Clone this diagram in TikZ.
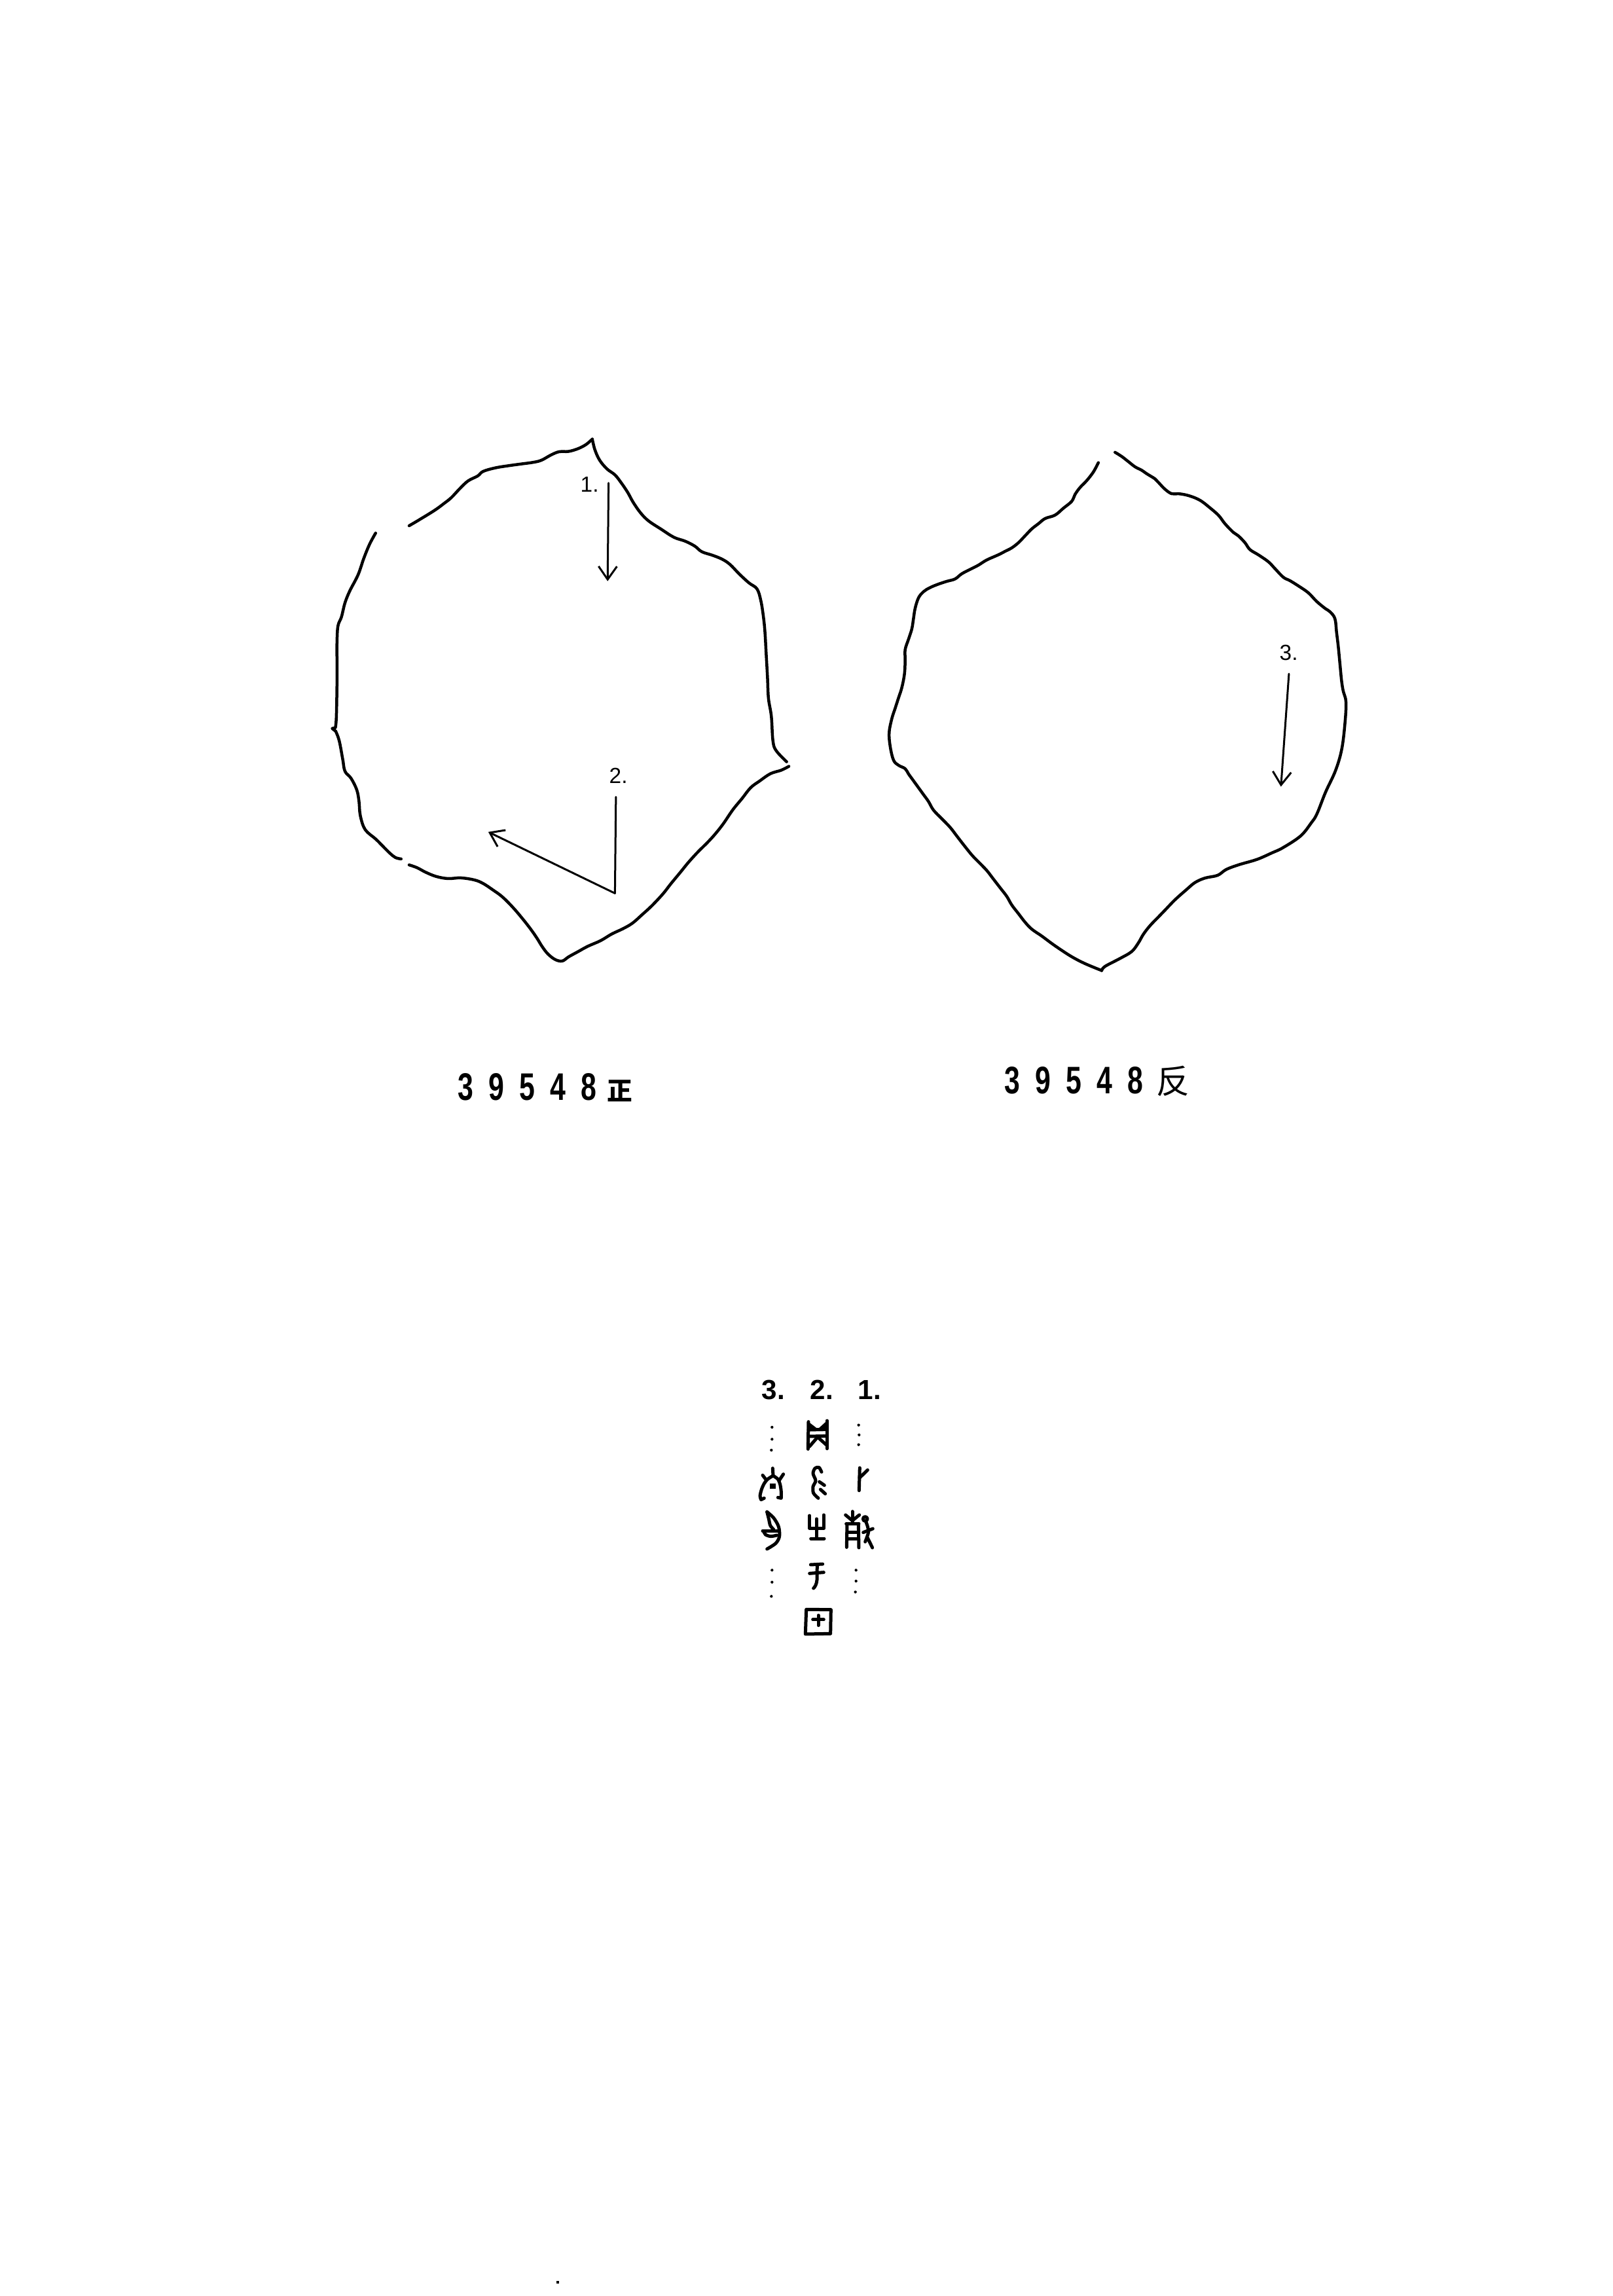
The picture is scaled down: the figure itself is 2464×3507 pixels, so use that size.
\documentclass[tikz,border=0pt]{standalone}
\usepackage{graphicx}
\usepackage{fontspec}
\setmainfont{Liberation Sans}
\newfontfamily\cjk{Noto Sans CJK SC}
\usetikzlibrary{arrows.meta}
\newcommand\fragdigit[1]{\makebox[4.7mm]{\scalebox{0.73}[1]{#1}}}
\begin{document}
\begin{tikzpicture}[x=0.1mm,y=-0.1mm,
  outline/.style={line width=0.45mm, line cap=round, line join=round},
  pointer/.style={line width=0.3mm, line cap=round, line join=round,
     -{Straight Barb[length=2mm,width=2.8mm,line width=0.3mm]}},
  glyph/.style={line width=0.5mm, line cap=round, line join=round},
  numlabel/.style={inner sep=0pt, anchor=base west, font=\fontsize{9.5}{10}\selectfont},
  colhead/.style={inner sep=0pt, anchor=base west, font=\bfseries\fontsize{12}{13}\selectfont},
  fraglabel/.style={inner sep=0pt, anchor=base west, font=\bfseries\fontsize{16.7}{18}\selectfont},
  ]
\fill[white] (0,0) rectangle (2464,3507);
\path[use as bounding box] (0,0) rectangle (2464,3507);

% ---------------- left fragment (obverse) ----------------
\begin{scope}[shift={(478.7,635.9)}, xscale=0.4875, yscale=0.5357]
  \draw[outline] plot[smooth,tension=0.6] coordinates {(300,312) (330,296) (380,268) (410,248) (432,232) (460,205) (485,184) (515,170) (532,157) (570,147) (610,141) (650,136) (690,131) (715,125) (745,110) (770,101) (800,100) (830,92) (855,80) (874,65)};
  \draw[outline] plot[smooth,tension=0.6] coordinates {(874,65) (882,95) (897,125) (920,150) (945,167) (965,190) (985,217) (1002,245) (1025,275) (1050,298) (1090,322) (1130,345) (1165,356) (1195,370) (1217,386) (1250,396) (1280,407) (1305,422) (1335,450) (1365,475) (1390,492) (1402,525) (1410,570) (1415,615) (1419,680) (1423,745) (1426,804) (1435,855) (1440,925) (1450,953) (1483,985)};
  \draw[outline] plot[smooth,tension=0.6] coordinates {(1490,998) (1466,1009) (1432,1019) (1398,1040) (1370,1059) (1343,1090) (1315,1121) (1285,1161) (1260,1190) (1235,1215) (1205,1242) (1175,1272) (1150,1300) (1120,1333) (1095,1362) (1060,1396) (1030,1421) (1000,1445) (970,1461) (935,1476) (900,1495) (860,1511) (830,1526) (800,1541) (780,1553) (758,1549) (735,1533) (717,1512) (700,1487) (680,1461) (655,1432) (625,1400) (592,1370) (562,1350) (532,1332) (505,1322) (462,1316) (422,1318) (385,1312) (352,1300) (325,1287) (300,1279)};
  \draw[outline] plot[smooth,tension=0.6] coordinates {(195,333) (176,365) (158,405) (140,452) (114,498) (99,532) (88,572) (77,598) (74,645) (74,698) (74,765) (72,858) (69,888)} -- (59,890) -- (70,898);
  \draw[outline] plot[smooth,tension=0.6] coordinates {(70,898) (81,925) (92,978) (99,1012) (118,1032) (136,1065) (143,1098) (147,1138) (162,1178) (195,1205) (217,1225) (239,1245) (257,1258) (275,1262)};
  \draw[pointer] (925,190) -- (922,470);
  \draw[pointer] (948,1085) -- (945,1360) -- (548,1185);
\end{scope}
\node[numlabel] (lone) at (886,751) {1.};
\node[numlabel] (ltwo) at (930,1196) {2.};

% ---------------- right fragment (reverse) ----------------
\begin{scope}[shift={(1331.8,660.3)}, xscale=0.5089, yscale=0.527]
  \draw[outline] plot[smooth,tension=0.6] coordinates {(680,88) (665,115) (645,140) (625,160) (610,180) (600,200) (575,220) (550,240) (520,250) (500,265) (480,280) (460,300) (440,320) (420,335) (400,345) (380,355) (345,370) (320,385) (300,395) (270,410) (250,425) (225,432) (200,440) (175,450) (155,462) (140,480) (130,510) (125,540) (120,570) (110,600) (100,630) (100,660) (98,700) (90,740) (80,770) (70,800) (60,830) (52,870) (55,910) (65,950) (80,965) (100,975) (110,990) (125,1010) (140,1030) (155,1050) (170,1070) (185,1095) (210,1120) (235,1145) (255,1170) (275,1195) (300,1225) (320,1245) (345,1270) (365,1295) (385,1320) (405,1345) (420,1370) (440,1395) (460,1420) (480,1440) (510,1460) (535,1478) (560,1495) (600,1520) (640,1540) (690,1560)};
  \draw[outline] plot[smooth,tension=0.6] coordinates {(690,1560) (700,1548) (745,1525) (780,1505) (800,1480) (815,1455) (835,1430) (860,1405) (880,1385) (910,1355) (945,1325) (970,1305) (1000,1292) (1038,1284) (1064,1267) (1103,1253) (1156,1238) (1201,1219) (1234,1204) (1287,1170) (1319,1132) (1336,1106) (1362,1043) (1392,980) (1411,916) (1421,834) (1423,780) (1415,750) (1410,720) (1405,670) (1400,620) (1395,580) (1390,540) (1375,520) (1360,510) (1335,490) (1310,465) (1280,445) (1255,430) (1235,420) (1210,395) (1190,375) (1160,355) (1135,340) (1120,320) (1100,300) (1085,290) (1060,265) (1040,240) (1010,215) (990,200) (970,190) (945,182) (920,178) (900,178) (880,165) (860,145) (850,135) (825,120) (810,110) (790,100) (770,85) (750,70) (730,58)};
  \draw[pointer] (1252,700) -- (1228,1027);
\end{scope}
\node[numlabel] (rthree) at (1954,1008) {3.};

% ---------------- fragment numbers ----------------
\node[fraglabel] (numfront) at (687.5,1680) {\fragdigit{3}\fragdigit{9}\fragdigit{5}\fragdigit{4}\fragdigit{8}\hspace{0.4mm}{\cjk\fontsize{11}{12}\selectfont 正}};
\node[fraglabel] (numback) at (1522.5,1670) {\fragdigit{3}\fragdigit{9}\fragdigit{5}\fragdigit{4}\fragdigit{8}\hspace{0.8mm}{\cjk\mdseries\fontsize{14.5}{15}\selectfont 反}};

% ---------------- transcription ----------------
\node[colhead] (cthree) at (1163,2137) {3.};
\node[colhead] (ctwo) at (1237,2137) {2.};
\node[colhead] (cone) at (1310,2137) {1.};

\begin{scope}[shift={(1120,2070)}, scale=0.3333]
  % dots
  \foreach \px/\py in {178/330, 178/385, 175/435, 178/985, 178/1040, 175/1105,
                       575/320, 577/365, 575/410, 563/985, 563/1035, 560/1085}
     \fill (\px,\py) circle (6.5);
  % 冓-like
  \draw[glyph] (345,305) -- (343,430);
  \draw[glyph] (430,300) -- (430,428);
  \fill (345,305) -- (388,338) -- (345,340) -- cycle;
  \fill (430,300) -- (388,338) -- (430,340) -- cycle;
  \draw[glyph] (345,342) -- (430,340);
  \draw[glyph] (345,372) -- (430,370);
  \draw[glyph] (350,418) -- (387,375) -- (426,410);
  % 于
  \draw[glyph] (355,960) -- (410,957);
  \draw[glyph] (350,1000) -- (415,995);
  \draw[glyph] (385,960) -- (384,1030) .. controls (382,1050) and (375,1062) .. (368,1068);
  % 田
  \draw[glyph] (335,1165) -- (448,1166) -- (446,1276) -- (331,1278) -- cycle;
  \draw[glyph] (365,1212) -- (415,1212);
  \draw[glyph] (390,1192) -- (390,1238);
\end{scope}

\begin{scope}[shift={(1140,2220)}, scale=0.3333]
  % column 3, first glyph
  \draw[glyph] (121,68) -- (123,102);
  \draw[glyph] plot[smooth] coordinates {(123,102) (98,118) (82,138) (70,165) (63,195) (68,212)} -- (82,205);
  \draw[glyph] (75,100) -- (92,122);
  \draw[glyph] plot[smooth] coordinates {(123,102) (145,118) (155,142) (160,175) (160,205)} -- (145,202);
  \draw[glyph] (170,95) -- (150,125);
  \draw[line width=0.8mm] (107,150) -- (135,150);
  % column 3, second glyph
  \draw[glyph] plot[smooth] coordinates {(95,268) (125,295) (148,335) (152,380) (135,412) (95,438)};
  \draw[glyph] plot[smooth] coordinates {(95,268) (103,300) (110,330) (125,348)};
  \draw[glyph] (75,355) -- (145,355);
  \draw[glyph] plot[smooth] coordinates {(80,357) (88,372) (112,380) (140,375)};
  % column 2, squiggle
  \draw[glyph] plot[smooth] coordinates {(345,85) (333,64) (315,68) (306,92) (318,125) (306,152) (308,182) (330,205)};
  \draw[glyph] (335,130) -- (358,146);
  \draw[glyph] (340,165) -- (362,185);
  % column 2, 生
  \draw[glyph] (290,285) -- (290,343) -- (355,343) -- (355,282);
  \draw[glyph] (322,300) -- (322,388);
  \draw[glyph] (296,390) -- (357,390);
  % column 1, 卜
  \draw[glyph] (520,66) -- (517,170);
  \draw[glyph] (519,112) -- (556,76);
  % column 1, 㱿
  \draw[glyph] (486,266) -- (486,318);
  \draw[glyph] (455,282) -- (486,308) -- (518,282);
  \draw[glyph] (458,322) -- (516,322);
  \draw[glyph] (462,322) -- (460,430);
  \draw[glyph] (514,322) -- (516,432);
  \draw[glyph] (462,360) -- (514,360);
  \draw[glyph] (462,392) -- (514,392);
  \draw[glyph] (545,300) circle (10);
  \draw[glyph] plot[smooth] coordinates {(548,312) (556,335) (560,360) (550,392) (545,405)};
  \draw[glyph] (536,362) -- (580,345);
  \draw[glyph] (555,385) -- (578,432);
\end{scope}

% stray mark near the bottom edge
\fill (850,3484) rectangle (854,3488);
\end{tikzpicture}
\end{document}
